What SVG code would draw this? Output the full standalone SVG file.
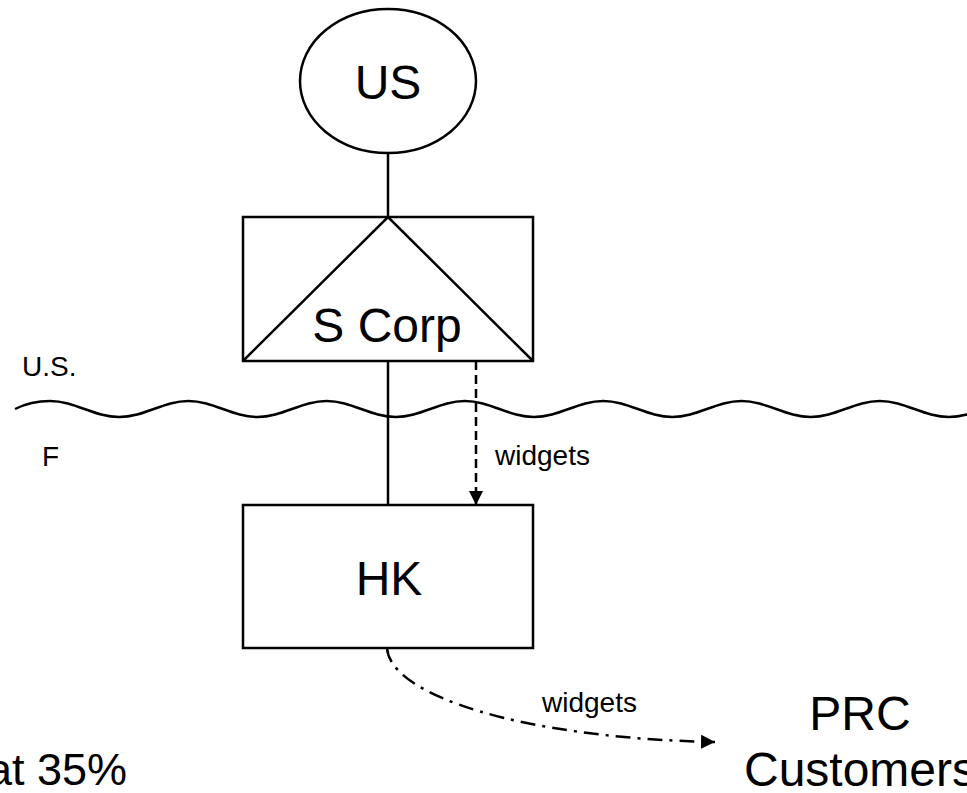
<svg xmlns="http://www.w3.org/2000/svg" width="967" height="793" viewBox="0 0 967 793">
  <style>
    text { font-family: "Liberation Sans", Arial, sans-serif; fill: #000; }
    .big { font-size: 48px; text-anchor: middle; }
    .small { font-size: 28px; }
    .shape { fill: #fff; stroke: #000; stroke-width: 2.5; }
    .link { fill: none; stroke: #000; stroke-width: 2.5; }
  </style>
  <defs>
    <marker id="arrow" viewBox="0 0 14 14" refX="14" refY="7" markerWidth="14" markerHeight="14" markerUnits="userSpaceOnUse" orient="auto">
      <path d="M0,0 L14,7 L0,14 Z" fill="#000"/>
    </marker>
  </defs>

  <rect width="967" height="793" fill="#fff"/>

  <!-- border between the two jurisdictions -->
  <g id="border">
    <path class="link" stroke-width="2" d="M15,409 C27,403 38,401 50,401 C75,401 94,417 119.15,417 S163.3,401 188.3,401 S232.45,417 257.45,417 S301.6,401 326.6,401 S370.75,417 395.75,417 S439.9,401 464.9,401 S509.05,417 534.05,417 S578.2,401 603.2,401 S647.35,417 672.35,417 S716.5,401 741.5,401 S785.65,417 810.65,417 S854.8,401 879.8,401 S923.95,417 948.95,417 S993.1,401 1018.1,401"/>
    <text class="small" x="22" y="376">U.S.</text>
    <text class="small" x="42" y="466">F</text>
  </g>

  <g id="connectors">
    <line class="link" x1="388" y1="153" x2="388" y2="217"/>
    <line class="link" x1="388" y1="361" x2="388" y2="505"/>
    <line class="link" stroke-dasharray="9,5" x1="476" y1="361" x2="476" y2="505" marker-end="url(#arrow)"/>
    <text class="small" x="495" y="465">widgets</text>
    <path class="link" stroke-width="2" stroke-dasharray="15,7,3,7" d="M387,648 C390,695 520,738 715,742" marker-end="url(#arrow)"/>
    <text class="small" x="542" y="712">widgets</text>
  </g>

  <g id="us">
    <ellipse class="shape" stroke-width="2" cx="388" cy="81" rx="88" ry="72"/>
    <text class="big" x="388" y="99" font-size="50">US</text>
  </g>

  <g id="s-corp">
    <rect class="shape" x="243" y="217" width="290" height="144"/>
    <path class="link" stroke-width="2" d="M243,361 L388,217 L533,361"/>
    <text class="big" x="387" y="342" font-size="44">S Corp</text>
  </g>

  <g id="hk">
    <rect class="shape" x="243" y="505" width="290" height="143"/>
    <text class="big" x="389" y="595">HK</text>
  </g>

  <g id="prc-customers">
    <text class="big" x="860" y="730" font-size="46">PRC</text>
    <text class="big" x="860" y="786" font-size="46">Customers</text>
  </g>

  <g id="rate">
    <text font-size="45" x="127" y="785" text-anchor="end">at 35%</text>
  </g>
</svg>
